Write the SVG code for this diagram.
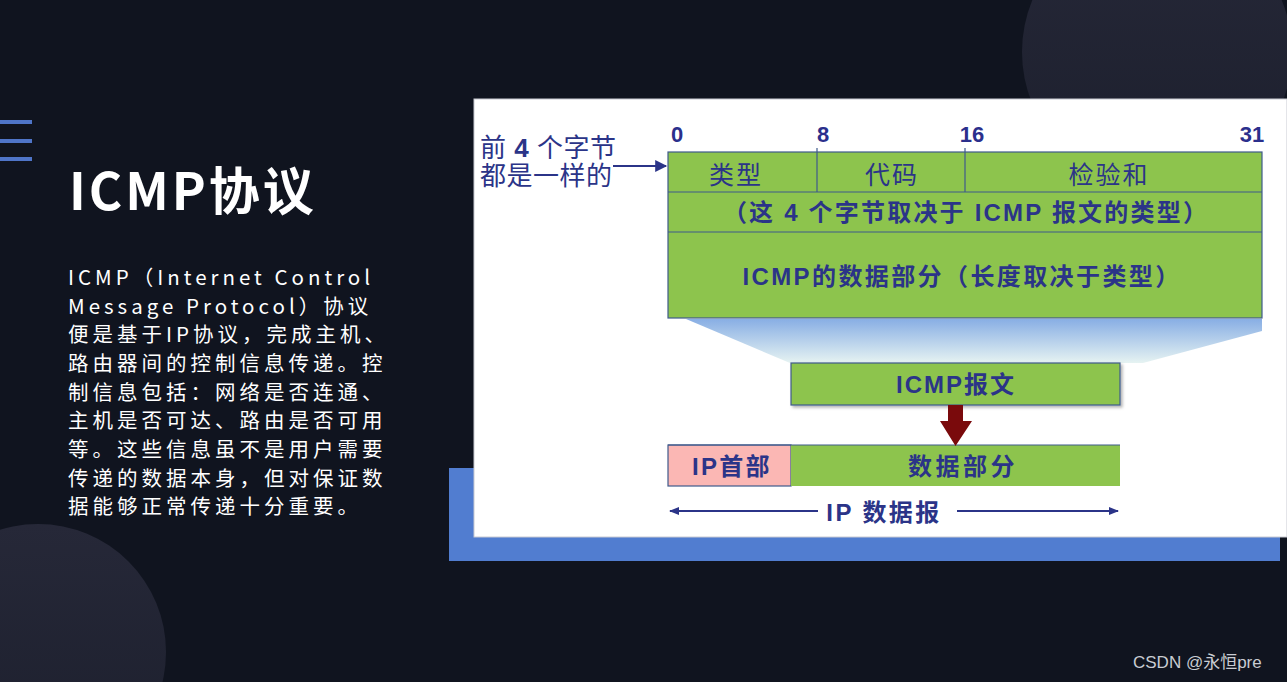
<svg xmlns="http://www.w3.org/2000/svg" width="1287" height="682" viewBox="0 0 1287 682">
<style>
.bgtext{font-family:"Noto Sans CJK SC","Liberation Sans",sans-serif;fill:#ffffff}
.para{font-size:20.5px;letter-spacing:4px}
.lbl{font-family:"Liberation Sans","Noto Sans CJK SC",sans-serif;fill:#2b3488;text-anchor:middle}
.num{font-family:"Liberation Sans","Noto Sans CJK SC",sans-serif;fill:#2b2f8c;font-weight:700;font-size:22px;text-anchor:middle}
.cell{fill:#8dc44d;stroke:#3f5a8c;stroke-width:1.2}
.line{stroke:#2b3488;stroke-width:2;fill:none}
</style>
<defs>
<linearGradient id="circ" x1="0" y1="0" x2="0" y2="1">
<stop offset="0" stop-color="#262838"/>
<stop offset="1" stop-color="#1c1f2d"/>
</linearGradient>
<linearGradient id="trap" x1="0" y1="0" x2="0" y2="1">
<stop offset="0" stop-color="#88aee4"/>
<stop offset="1" stop-color="#e6f3f2"/>
</linearGradient>
<marker id="ah" viewBox="0 0 10 10" refX="9" refY="5" markerWidth="10" markerHeight="10" markerUnits="userSpaceOnUse" orient="auto">
<path d="M0,1 L10,5 L0,9 Z" fill="#2b3488"/>
</marker>
<marker id="big" viewBox="0 0 10 10" refX="9" refY="5" markerWidth="14" markerHeight="12" markerUnits="userSpaceOnUse" orient="auto">
<path d="M0,0 L10,5 L0,10 Z" fill="#2b3488"/>
</marker>
<filter id="sh" x="-5%" y="-20%" width="115%" height="150%">
<feDropShadow dx="2" dy="2" stdDeviation="1.5" flood-color="#000" flood-opacity="0.3"/>
</filter>
</defs>

<!-- background -->
<rect x="0" y="0" width="1287" height="682" fill="#10141f"/>
<circle cx="1157" cy="52" r="135" fill="url(#circ)"/>
<circle cx="38" cy="652" r="128" fill="url(#circ)"/>

<g id="menu-icon" fill="#4f75c8">
<rect x="0" y="120" width="32" height="4"/>
<rect x="0" y="139" width="32" height="4"/>
<rect x="0" y="157" width="32" height="4"/>
</g>

<text id="title" class="bgtext" x="69" y="210" font-size="51" font-weight="700" letter-spacing="3">ICMP协议</text>

<g id="paragraph" class="bgtext para">
<text x="68" y="285">ICMP（Internet Control</text>
<text x="68" y="314">Message Protocol）协议</text>
<text x="68" y="342">便是基于IP协议，完成主机、</text>
<text x="68" y="371">路由器间的控制信息传递。控</text>
<text x="68" y="400">制信息包括：网络是否连通、</text>
<text x="68" y="428">主机是否可达、路由是否可用</text>
<text x="68" y="457">等。这些信息虽不是用户需要</text>
<text x="68" y="486">传递的数据本身，但对保证数</text>
<text x="68" y="514">据能够正常传递十分重要。</text>
</g>

<!-- panel -->
<rect x="449" y="468" width="831" height="93" fill="#517dd0"/>
<rect x="474" y="99" width="813" height="438" fill="#ffffff" stroke="#c8cad2" stroke-width="1"/>

<!-- gradient trapezoid -->
<polygon id="funnel" points="686,319 1262,319 1262,331 1143,363 790,363" fill="url(#trap)"/>

<g id="bit-labels">
<text class="num" x="677" y="142">0</text>
<text class="num" x="823" y="142">8</text>
<text class="num" x="972" y="142">16</text>
<text class="num" x="1252" y="142">31</text>
</g>

<g id="icmp-header">
<rect class="cell" x="668" y="152" width="594" height="166"/>
<line x1="668" y1="192" x2="1262" y2="192" stroke="#3f5a8c" stroke-width="1.2"/>
<line x1="668" y1="232" x2="1262" y2="232" stroke="#3f5a8c" stroke-width="1.2"/>
<line x1="817" y1="148" x2="817" y2="192" stroke="#3f5a8c" stroke-width="1.2"/>
<line x1="965" y1="148" x2="965" y2="192" stroke="#3f5a8c" stroke-width="1.2"/>
<text class="lbl" x="736" y="184" font-size="25" letter-spacing="2">类型</text>
<text class="lbl" x="892" y="184" font-size="25" letter-spacing="2">代码</text>
<text class="lbl" x="1109" y="184" font-size="25" letter-spacing="2">检验和</text>
<text class="lbl" x="966" y="221" font-size="24" font-weight="700" letter-spacing="2.2">（这 4 个字节取决于 ICMP 报文的类型）</text>
<text class="lbl" x="962" y="285" font-size="24" font-weight="700" letter-spacing="2.4">ICMP的数据部分（长度取决于类型）</text>
</g>

<g id="side-note">
<text class="lbl" x="480" y="157" font-size="26" letter-spacing="0.5" style="text-anchor:start">前 <tspan font-weight="700">4</tspan> 个字节</text>
<text class="lbl" x="480" y="185" font-size="26" letter-spacing="0.5" style="text-anchor:start">都是一样的</text>
</g>

<g id="icmp-message">
<rect class="cell" x="791" y="363" width="329" height="42" filter="url(#sh)"/>
<text class="lbl" x="956" y="393" font-size="24" font-weight="700" letter-spacing="2">ICMP报文</text>
</g>

<g id="ip-datagram">
<rect x="668" y="445" width="123" height="41" fill="#fbb7b4" stroke="#3f5a8c" stroke-width="1.2"/>
<rect x="791" y="445" width="329" height="41" fill="#8dc44d"/>
<line x1="668" y1="445" x2="1120" y2="445" stroke="#3f5a8c" stroke-width="1.2"/>
<text class="lbl" x="732" y="475" font-size="24" font-weight="700" letter-spacing="2.3">IP首部</text>
<text class="lbl" x="963" y="475" font-size="24" font-weight="700" letter-spacing="3.5">数据部分</text>
<text class="lbl" x="884" y="521" font-size="24" font-weight="700" letter-spacing="2.4">IP 数据报</text>
</g>

<g id="connectors">
<line class="line" x1="613" y1="166" x2="666" y2="166" marker-end="url(#big)"/>
<polygon points="948,405 963,405 963,421 972,421 955.5,446 940,421 948,421" fill="#7a0a0c"/>
<line class="line" x1="818" y1="511" x2="670" y2="511" marker-end="url(#ah)"/>
<line class="line" x1="957" y1="511" x2="1118" y2="511" marker-end="url(#ah)"/>
</g>

<text id="watermark" x="1133" y="668" font-family="Liberation Sans,'Noto Sans CJK SC',sans-serif" font-size="17" fill="#c9ccd2">CSDN @永恒pre</text>
</svg>
